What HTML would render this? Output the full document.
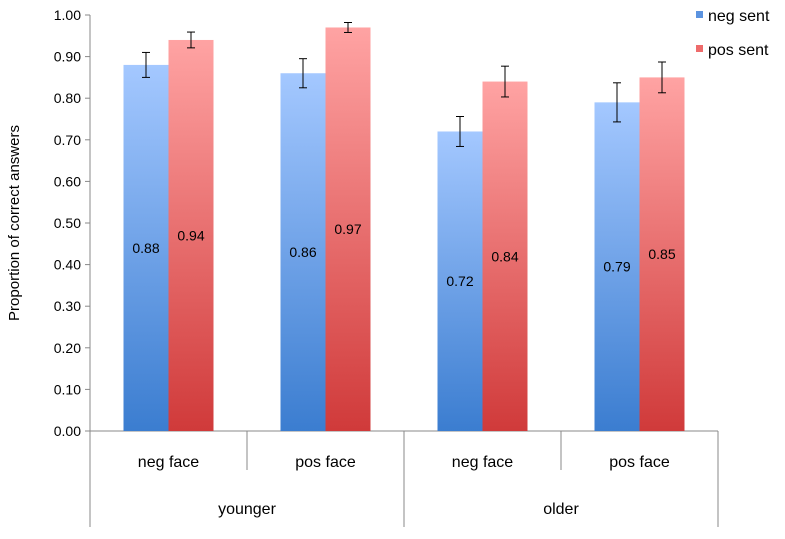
<!DOCTYPE html>
<html><head><meta charset="utf-8"><style>
body{margin:0;background:#fff;}
svg text{font-family:"Liberation Sans",sans-serif;}
</style></head><body>
<svg id="chart" width="785" height="534">
<defs>
<linearGradient id="gb" x1="0" y1="0" x2="0" y2="1"><stop offset="0" stop-color="#a4c8ff"/><stop offset="1" stop-color="#3b7dd0"/></linearGradient>
<linearGradient id="gr" x1="0" y1="0" x2="0" y2="1"><stop offset="0" stop-color="#ffa3a3"/><stop offset="1" stop-color="#d03a3a"/></linearGradient>
</defs>
<g id="axes"></g><g id="bars"></g>
</svg>
<script>
const categories=["neg face","pos face","neg face","pos face"];
const groups=["younger","older"];
const negSent=[0.88,0.86,0.72,0.79];
const posSent=[0.94,0.97,0.84,0.85];
const negErr=[0.03,0.035,0.036,0.047];
const posErr=[0.019,0.012,0.037,0.037];
const ticks=[0,0.1,0.2,0.3,0.4,0.5,0.6,0.7,0.8,0.9,1.0];
const NS="http://www.w3.org/2000/svg";
const svg=document.getElementById('chart');
const ax=document.getElementById('axes'), bg=document.getElementById('bars');
const x0=90,x1=718,y0=431,yTop=15;
const y=v=>y0-v*(y0-yTop);
const cw=(x1-x0)/categories.length;
function mk(p,t,a,txt){const e=document.createElementNS(NS,t);for(const k in a)e.setAttribute(k,a[k]);if(txt!==undefined)e.textContent=txt;p.appendChild(e);return e;}
let l=mk(ax,'line',{x1:x0,y1:yTop,x2:x0,y2:y0,stroke:'#888'});


ticks.forEach(t=>{
 mk(ax,'line',{x1:x0-5,x2:x0,y1:y(t),y2:y(t),stroke:'#888'});
 const tx=mk(ax,'text',{x:x0-9,y:y(t)+5,'text-anchor':'end','font-size':14},t.toFixed(2));
 
 
});
const yt=mk(ax,'text',{transform:'translate(19,223) rotate(-90)','text-anchor':'middle','font-size':15},'Proportion of correct answers');


mk(ax,'line',{x1:x0,x2:x1,y1:y0,y2:y0,stroke:'#888'});
for(let i=0;i<=categories.length;i++){
 const xx=x0+i*cw, outer=(i%2===0);
 mk(ax,'line',{x1:xx,x2:xx,y1:y0,y2:outer?527:470,stroke:'#888'});
}
categories.forEach((c,i)=>{
 const t=mk(ax,'text',{x:x0+(i+0.5)*cw,y:467,'text-anchor':'middle','font-size':16},c);
 
 
});
groups.forEach((g,i)=>{
 const t=mk(ax,'text',{x:x0+(i+0.5)*2*cw,y:514,'text-anchor':'middle','font-size':16},g);
 
 
});
const bw=45;
function bar(v,e,cx,fill,name){
 const r=mk(bg,'rect',{x:cx-bw/2,y:y(v),width:bw,height:y0-y(v),fill:fill});
 
 
 mk(bg,'line',{x1:cx,x2:cx,y1:y(v+e),y2:y(v-e),stroke:'#000'});
 mk(bg,'line',{x1:cx-4,x2:cx+4,y1:y(v+e),y2:y(v+e),stroke:'#000'});
 mk(bg,'line',{x1:cx-4,x2:cx+4,y1:y(v-e),y2:y(v-e),stroke:'#000'});
 const t=mk(bg,'text',{x:cx,y:y(v/2)+5,'text-anchor':'middle','font-size':14},v.toFixed(2));
 
 
}
categories.forEach((c,i)=>{
 const cc=x0+(i+0.5)*cw;
 bar(negSent[i],negErr[i],cc-bw/2,'url(#gb)','bar-neg-sent');
 bar(posSent[i],posErr[i],cc+bw/2,'url(#gr)','bar-pos-sent');
});
[['neg sent','#5b93e0'],['pos sent','#ee6b6b']].forEach((s,i)=>{
 const r=mk(ax,'rect',{x:696,y:11+i*34,width:7,height:7,fill:s[1]});
 
 
 const t=mk(ax,'text',{x:708,y:21+i*34,'font-size':16},s[0]);
 
 
});
</script>
</body></html>
